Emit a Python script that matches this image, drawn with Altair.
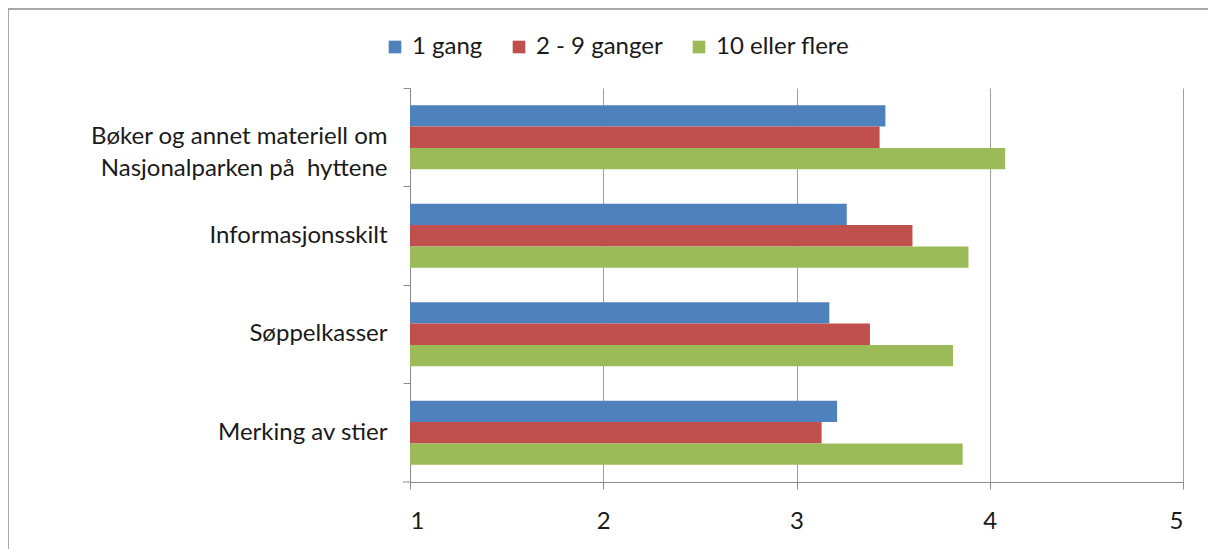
import altair as alt
import pandas as pd

categories = ["Bøker og annet materiell om|Nasjonalparken på\u00a0 hyttene", "Informasjonsskilt", "Søppelkasser", "Merking av stier"]
series = ["1 gang", "2 - 9 ganger", "10 eller flere"]
v_1gang = [3.46, 3.26, 3.17, 3.21]
v_2_9 = [3.43, 3.60, 3.38, 3.13]
v_10 = [4.08, 3.89, 3.81, 3.86]
colors = ["#4F81BD", "#C0504D", "#9BBB59"]
x_ticks = [1, 2, 3, 4, 5]
x_min = 1

rows = []
for s, vals in zip(series, [v_1gang, v_2_9, v_10]):
    for c, v in zip(categories, vals):
        rows.append({"kategori": c, "serie": s, "verdi": v, "start": x_min})
df = pd.DataFrame(rows)

FONT = "Lato"
FS = 24
TXT = "#1a1a1a"
W, H = 773, 394

bars = alt.Chart(df).mark_bar(cornerRadius=0).encode(
    x=alt.X("verdi:Q", scale=alt.Scale(domain=[1, 5], nice=False, zero=False),
            axis=alt.Axis(values=x_ticks, title=None, grid=True, gridColor="#A0A0A0",
                          domainColor="#8C8C8C", tickColor="#8C8C8C", tickSize=7,
                          labelFont=FONT, labelFontSize=FS, labelColor=TXT,
                          labelPadding=20, format="d")),
    x2=alt.X2("start:Q"),
    y=alt.Y("kategori:N", sort=categories,
            scale=alt.Scale(paddingInner=0.35, paddingOuter=0.175),
            axis=alt.Axis(title=None, domainColor="#8C8C8C", tickColor="#8C8C8C", tickSize=7,
                          bandPosition=-0.2692, labelFont=FONT, labelFontSize=FS, labelColor=TXT,
                          labelPadding=16, labelLimit=400, labelLineHeight=32,
                          labelExpr="split(datum.label, '|')")),
    yOffset=alt.YOffset("serie:N", sort=series),
    color=alt.Color("serie:N", sort=series,
                    scale=alt.Scale(domain=series, range=colors),
                    legend=alt.Legend(title=None, orient="none", direction="horizontal",
                                      legendX=-27, legendY=-53, symbolType="square",
                                      symbolSize=160, symbolStrokeWidth=0, labelFont=FONT,
                                      labelFontSize=FS, labelColor=TXT,
                                      columnPadding=24, labelOffset=5)),
)

bottom_tick = alt.Chart(pd.DataFrame({"a": [0]})).mark_rule(color="#8C8C8C").encode(
    x=alt.value(-7), x2=alt.value(0), y=alt.value(H)
)
border_top = alt.Chart(pd.DataFrame({"a": [0]})).mark_rule(color="#8C8C8C", strokeWidth=1.5).encode(
    x=alt.value(-402), x2=alt.value(1216), y=alt.value(-79)
)
border_left = alt.Chart(pd.DataFrame({"a": [0]})).mark_rule(color="#8C8C8C", strokeWidth=1.5).encode(
    x=alt.value(-402), y=alt.value(-79), y2=alt.value(549)
)

chart = alt.layer(bars, bottom_tick, border_top, border_left).properties(
    width=W, height=H,
    autosize=alt.AutoSizeParams(type="none"),
    padding={"left": 402, "top": 80, "right": 25, "bottom": 67},
).configure_view(stroke=None)

chart.save("out.html", embed_options={"renderer": "svg", "actions": False})
